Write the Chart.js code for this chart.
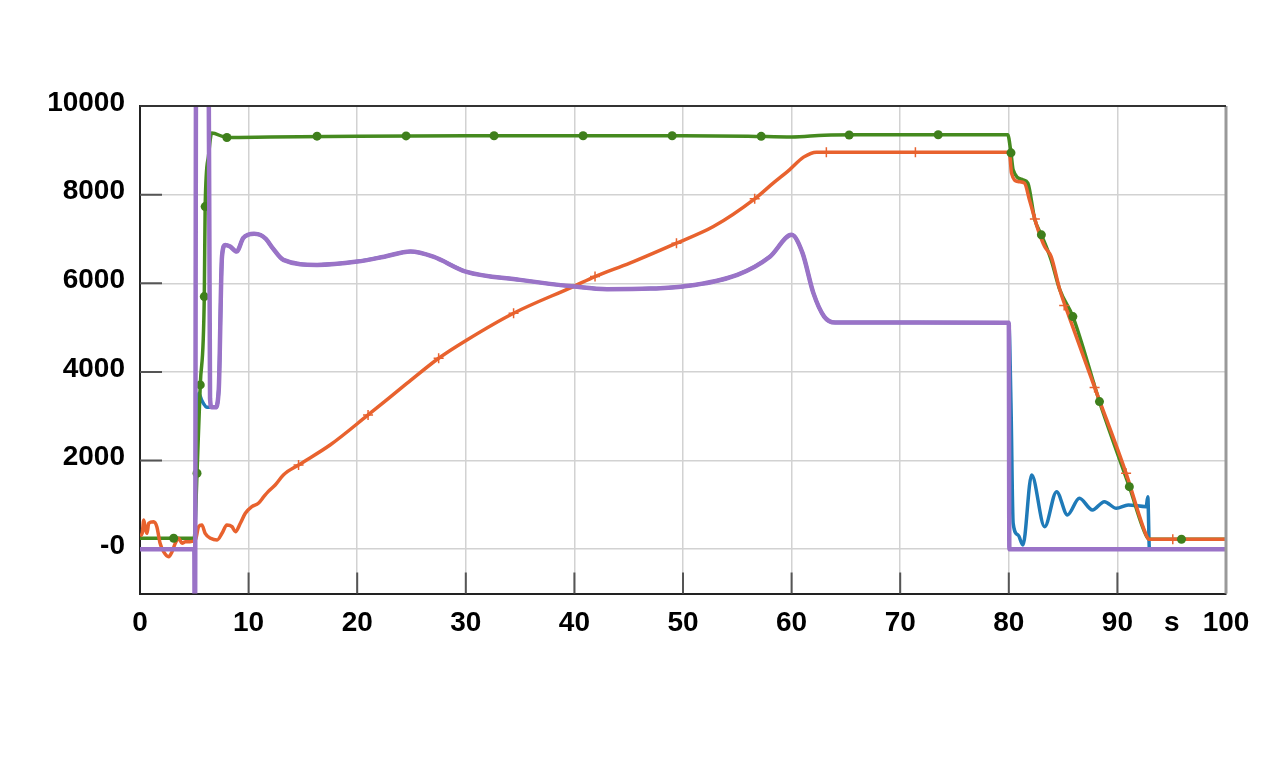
<!DOCTYPE html>
<html>
<head>
<meta charset="utf-8">
<script src="https://cdn.jsdelivr.net/npm/chart.js@4"></script>
<style>
  html, body { margin: 0; padding: 0; background: #fff; }
  #wrap { width: 1280px; height: 757px; }
</style>
</head>
<body>
<div id="wrap"><canvas id="simChart"></canvas></div>
<script>
// tick labels
const xTicks = [0, 10, 20, 30, 40, 50, 60, 70, 80, 90, 95, 100];
const yTicks = [0, 2000, 4000, 6000, 8000, 10000];

// green trace (time s, value)
const greenT = [0, 3, 5.0, 5.1, 5.25, 5.55, 5.92, 6.0, 6.3, 6.6, 8.0, 12, 20, 30, 40, 50, 56, 60, 63, 66, 75, 79.9,
  80.2, 80.4, 81.3, 81.75, 82.4, 83.0, 83.9, 84.7, 85.9, 88.35, 91.1, 92.8, 93.0, 100];
const greenV = [246, 246, 246, 700, 1713, 3706, 5700, 7731, 8860, 9390, 9290, 9300, 9320, 9330, 9330, 9330, 9320, 9300, 9340, 9350, 9350, 9350,
  8943, 8560, 8334, 8260, 7431, 7093, 6528, 5851, 5248, 3330, 1411, 246, 223, 223];
const greenMarkT = [3.1, 5.25, 5.55, 5.92, 6.0, 8.0, 16.3, 24.5, 32.6, 40.8, 49.0, 57.2, 65.3, 73.5, 80.2, 83.0, 85.9, 88.35, 91.1, 95.9];
const greenMarkV = [246, 1713, 3706, 5700, 7731, 9290, 9320, 9325, 9330, 9330, 9330, 9315, 9345, 9350, 8943, 7093, 5248, 3330, 1411, 223];

// orange trace
const orangeT = [0, 0.2, 0.35, 0.5, 0.65, 0.8, 1.25, 1.55, 1.85, 2.17, 2.64, 2.95, 3.25, 3.56, 3.87, 4.18, 4.6, 5.1, 5.4, 5.7,
  6.0, 6.5, 7.1, 7.55, 8.0, 8.47, 8.78, 9.24, 9.7, 10.3, 10.9, 11.4, 11.8, 12.45, 13.2, 14.6, 17.5, 21, 24.6, 27.5, 30.1,
  34.4, 39.9, 41.9, 45.1, 49.4, 52.8, 56.6, 58.3, 59.8, 61.1, 62.3, 79.8, 80.1, 80.25, 80.85, 81.45, 81.9, 82.7, 83.3,
  83.9, 84.7, 85.6, 88.05, 90.8, 92.65, 92.9, 100];
const orangeV = [300, 358, 660, 450, 358, 585, 620, 508, 133, -56, -169, -56, 133, 246, 133, 170, 170, 208, 508, 546,
  358, 246, 208, 358, 546, 508, 395, 585, 810, 960, 1036, 1185, 1298, 1449, 1675, 1900, 2350, 3029, 3745, 4309, 4722,
  5325, 5926, 6151, 6454, 6905, 7280, 7905, 8260, 8560, 8846, 8959, 8959, 8860, 8485, 8296, 8260, 7883, 7205, 6829,
  6603, 5851, 5212, 3555, 1713, 320, 223, 223];
const orangeMarkT = [14.6, 21, 27.5, 34.4, 41.9, 49.4, 56.6, 63.2, 71.4, 82.4, 85.1, 87.9, 90.8, 95.1];
const orangeMarkV = [1900, 3029, 4309, 5325, 6151, 6905, 7905, 8959, 8959, 7450, 5500, 3650, 1713, 223];

// purple trace
const purpleT = [0, 5.0, 5.05, 5.2, 6.25, 6.45, 6.6, 6.95, 7.25, 7.55, 7.85, 8.3, 8.9, 9.5, 10.0, 10.5, 11.1, 11.6, 12.2, 13.2,
  16.3, 20, 22.5, 24.9, 27, 30, 35, 40, 43, 47, 50, 55, 58, 60, 61, 62, 63, 64, 80, 80.05, 100];
const purpleV = [0, 0, -3000, 15000, 15000, 3400, 3200, 3200, 3594, 6603, 6866, 6829, 6716, 7020, 7100, 7120, 7090, 7000, 6800, 6528,
  6415, 6490, 6600, 6715, 6600, 6264, 6077, 5926, 5867, 5880, 5926, 6190, 6600, 7093, 6686, 5783, 5248, 5113, 5110, 0, 0];

// blue trace (runs under the purple one between 7 s and 80 s)
const blueT = [0, 5.05, 5.15, 5.4, 5.7, 6.2, 6.6, 6.95, 7.25, 7.55, 7.85, 8.3, 8.9, 9.5, 10.0, 10.5, 11.1, 11.6, 12.2, 13.2,
  16.3, 20, 22.5, 24.9, 27, 30, 35, 40, 43, 47, 50, 55, 58, 60, 61, 62, 63, 64, 80, 80.2, 80.4, 80.85, 81.3, 82.1,
  83.3, 84.4, 85.4, 86.5, 87.7, 88.8, 89.9, 91, 92.65, 92.8, 92.95, 100];
const blueV = [0, 0, 1700, 3517, 3350, 3200, 3200, 3200, 3594, 6603, 6866, 6829, 6716, 7020, 7100, 7120, 7090, 7000, 6800, 6528,
  6415, 6490, 6600, 6715, 6600, 6264, 6077, 5926, 5867, 5880, 5926, 6190, 6600, 7093, 6686, 5783, 5248, 5113, 5110, 3293, 585, 320, 95, 1675,
  508, 1298, 772, 1149, 885, 1072, 923, 998, 960, 1185, 0, 0];

const pts = (t, v) => t.map((x, i) => ({ x: x, y: v[i] }));

const innerTicks = {
  id: 'innerTicks',
  beforeDatasetsDraw(chart) {
    const { ctx, chartArea, scales } = chart;
    ctx.save();
    ctx.strokeStyle = '#555';
    ctx.lineWidth = 2;
    ctx.beginPath();
    [10, 20, 30, 40, 50, 60, 70, 80, 90].forEach(v => {
      const px = scales.x.getPixelForValue(v);
      ctx.moveTo(px, chartArea.bottom);
      ctx.lineTo(px, chartArea.bottom - 21);
    });
    [0, 2000, 4000, 6000, 8000].forEach(v => {
      const py = scales.y.getPixelForValue(v);
      ctx.moveTo(chartArea.left, py);
      ctx.lineTo(chartArea.left + 22, py);
    });
    ctx.stroke();
    ctx.restore();
  },
  afterDraw(chart) {
    const { ctx, chartArea } = chart;
    ctx.save();
    ctx.strokeStyle = '#999';
    ctx.lineWidth = 3;
    ctx.beginPath();
    ctx.moveTo(chartArea.right, chartArea.top);
    ctx.lineTo(chartArea.right, chartArea.bottom);
    ctx.stroke();
    ctx.strokeStyle = '#333';
    ctx.lineWidth = 2;
    ctx.beginPath();
    ctx.moveTo(chartArea.left, chartArea.top);
    ctx.lineTo(chartArea.right, chartArea.top);
    ctx.stroke();
    ctx.restore();
  }
};

const line = (data, color, width, order) => ({
  data: data,
  borderColor: color,
  backgroundColor: color,
  borderWidth: width,
  pointRadius: 0,
  cubicInterpolationMode: 'monotone',
  order: order
});

const tickFont = { family: '"Liberation Sans", Arial, sans-serif', size: 28, weight: 'bold' };

new Chart(document.getElementById('simChart'), {
  type: 'line',
  data: {
    datasets: [
      line(pts(purpleT, purpleV), '#9a73c7', 4.5, 1),
      {
        data: pts(greenMarkT, greenMarkV),
        showLine: false,
        pointStyle: 'circle',
        pointRadius: 4.5,
        borderWidth: 0,
        backgroundColor: '#3f7f1c',
        order: 2
      },
      {
        data: pts(orangeMarkT, orangeMarkV),
        showLine: false,
        pointStyle: 'cross',
        pointRadius: 5,
        borderWidth: 1.5,
        borderColor: '#e8622e',
        order: 3
      },
      line(pts(orangeT, orangeV), '#e8622e', 3.5, 4),
      line(pts(greenT, greenV), '#458a1f', 3.5, 5),
      line(pts(blueT, blueV), '#1f7ab8', 3.5, 6)
    ]
  },
  options: {
    responsive: true,
    maintainAspectRatio: false,
    animation: false,
    layout: { padding: { left: 0, top: 106, right: 54, bottom: 0 } },
    plugins: {
      legend: { display: false },
      tooltip: { enabled: false }
    },
    scales: {
      x: {
        type: 'linear',
        min: 0,
        max: 100,
        afterBuildTicks: scale => { scale.ticks = xTicks.map(v => ({ value: v })); },
        afterFit: scale => { scale.height = 163.5; },
        grid: {
          color: ctx => (ctx.tick && (ctx.tick.value === 95 || ctx.tick.value === 0)) ? 'rgba(0,0,0,0)' : '#d2d2d2',
          lineWidth: 1.5,
          drawTicks: false
        },
        border: { color: '#222', width: 2 },
        ticks: {
          autoSkip: false,
          maxRotation: 0,
          padding: 13,
          color: '#000',
          font: tickFont,
          callback: v => v === 95 ? 's' : String(v)
        }
      },
      y: {
        type: 'linear',
        min: -1000,
        max: 10000,
        afterBuildTicks: scale => { scale.ticks = yTicks.map(v => ({ value: v })); },
        afterFit: scale => { scale.width = 140; },
        grid: {
          color: '#d2d2d2',
          lineWidth: 1.5,
          drawTicks: false
        },
        border: { color: '#222', width: 2 },
        ticks: {
          padding: 15,
          labelOffset: -3,
          color: '#000',
          font: tickFont,
          callback: v => v === 0 ? '-0' : String(v)
        }
      }
    }
  },
  plugins: [innerTicks]
});
</script>
</body>
</html>
